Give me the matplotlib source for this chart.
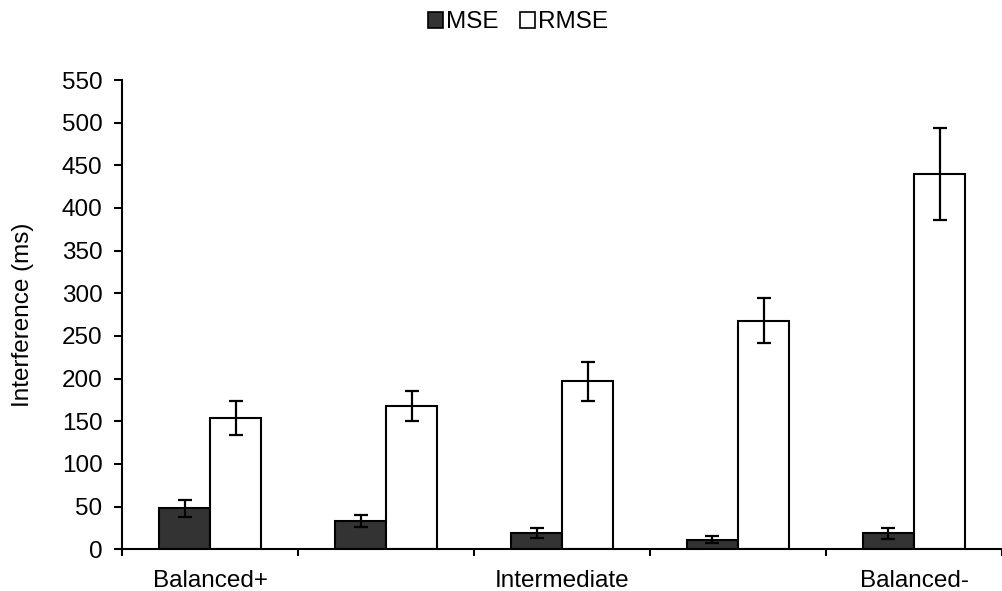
import matplotlib

matplotlib.use("Agg")
import matplotlib.pyplot as plt
import matplotlib.patches as mpatches
import numpy as np

plt.rcParams["font.family"] = ["Liberation Sans", "DejaVu Sans"]

conditions = ["Balanced+", "", "Intermediate", "", "Balanced-"]
mse = [48, 33.5, 19, 11, 18.5]
mse_err = [10, 7, 6, 4, 7]
rmse = [154, 168, 197, 268, 440]
rmse_err = [20, 18, 23, 26, 54]

FS = 17.5

fig = plt.figure(figsize=(10.02, 5.91), dpi=100)
ax = fig.add_axes([0.1218, 0.0706, 0.8782, 0.794])

x = np.arange(len(conditions))
w = 0.29
err_kw = dict(ecolor="black", elinewidth=1.6, capsize=5, capthick=1.6)
ax.bar(x - w / 2, mse, w, yerr=mse_err, color="#333333", edgecolor="black",
       linewidth=1.5, error_kw=err_kw, label="MSE")
ax.bar(x + w / 2, rmse, w, yerr=rmse_err, color="white", edgecolor="black",
       linewidth=1.5, error_kw=err_kw, label="RMSE")

ax.set_xlim(-0.5, -0.5 + 880 / 177)
ax.set_ylim(0, 550)
ax.set_yticks(np.arange(0, 551, 50))
ax.set_xticks(x)
ax.set_xticklabels(conditions)
ax.set_xticks(np.arange(-0.5, 4.6, 1.0), minor=True)
ax.tick_params(axis="x", which="major", length=0, pad=15, labelsize=FS)
ax.tick_params(axis="x", which="minor", length=5, width=1.5, direction="out")
ax.tick_params(axis="y", length=6, width=1.5, direction="out", labelsize=FS, pad=8)

for side in ("top", "right"):
    ax.spines[side].set_visible(False)
ax.spines["left"].set_linewidth(1.5)
ax.spines["bottom"].set_linewidth(1.5)
ax.set_ylabel("Interference (ms)", fontsize=FS, labelpad=20)

handles = [
    mpatches.Patch(facecolor="#333333", edgecolor="black", linewidth=1.2, label="MSE"),
    mpatches.Patch(facecolor="white", edgecolor="black", linewidth=1.2, label="RMSE"),
]
fig.legend(handles=handles, loc="center", bbox_to_anchor=(0.517, 0.962), ncol=2,
           frameon=False, fontsize=FS, handlelength=0.62, handleheight=0.62,
           handletextpad=0.12, columnspacing=0.9)

fig.savefig("out.png", dpi=100)
